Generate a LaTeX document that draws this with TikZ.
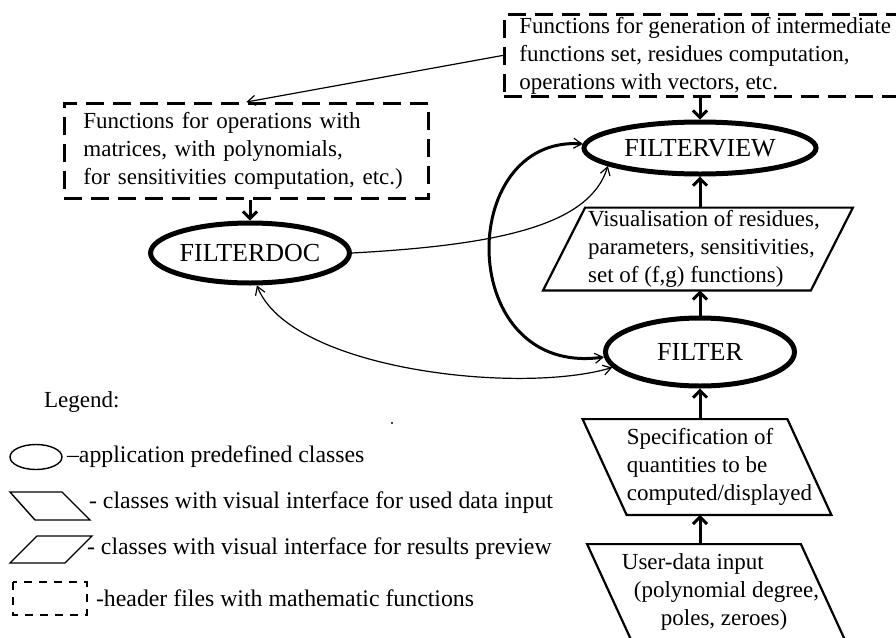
\documentclass[tikz,border=0pt]{standalone}
\usepackage{fontspec}
\setmainfont{Liberation Serif}
\usetikzlibrary{shapes.geometric,arrows.meta}

\begin{document}
\begin{tikzpicture}[x=0.5pt,y=-0.5pt,font=\fontsize{11.5}{14}\selectfont,
  hdr/.style={draw,line width=1.4pt,dash pattern=on 9pt off 4.5pt,align=left,inner ysep=1pt},
  cls/.style={draw,ellipse,line width=2.5pt,inner sep=0pt,font=\fontsize{13}{15}\selectfont},
  inbox/.style 2 args={align=left,inner sep=1pt,append after command={\pgfextra{\draw[line width=1.1pt] ([xshift=#2-#1]\tikzlastnode.north west) -- ([xshift=#2-#1]\tikzlastnode.north east) -- ([xshift=#2+#1]\tikzlastnode.south east) -- ([xshift=#2+#1]\tikzlastnode.south west) -- cycle;}}},
  outbox/.style 2 args={align=left,inner sep=1pt,append after command={\pgfextra{\draw[line width=1.1pt] ([xshift=#2+#1]\tikzlastnode.north west) -- ([xshift=#2+#1]\tikzlastnode.north east) -- ([xshift=#2-#1]\tikzlastnode.south east) -- ([xshift=#2-#1]\tikzlastnode.south west) -- cycle;}}},
  legtext/.style={anchor=west,font=\fontsize{11.9}{14}\selectfont},
  up/.style={line width=1.5pt,-{Straight Barb[length=3.5pt,width=7pt]}},
  thinarr/.style={line width=0.6pt,-{Straight Barb[length=4pt,width=5pt]}},
  twoway/.style={{Straight Barb[length=4pt,width=5pt,line width=0.6pt]}-{Straight Barb[length=4pt,width=5pt,line width=0.6pt]}}]
  \useasboundingbox (0,0) rectangle (896,638);
  \node[hdr,anchor=north west,inner xsep=7.5pt,minimum height=41pt] (genfun) at (503,13) {Functions for generation of intermediate\\functions set, residues computation,\\operations with vectors, etc.};
  \node[hdr,anchor=north west,text width=163pt,inner xsep=9.5pt,minimum height=47.5pt] (matfun) at (63,102) {Functions for operations with\\matrices, with polynomials,\\for sensitivities computation, etc.)};
  \node[cls,minimum width=116pt,minimum height=26pt] (fview) at (700,148) {FILTERVIEW};
  \node[cls,minimum width=98.5pt,minimum height=30pt] (fdoc) at (250,253) {FILTERDOC};
  \node[cls,minimum width=94.5pt,minimum height=34pt] (filter) at (700,352) {FILTER};
  \node[outbox={10.5pt}{-3pt},minimum width=133.5pt,minimum height=41pt] (vis) at (704,249) {Visualisation of residues,\\parameters, sensitivities,\\set of (f,g) functions)};
  \node[inbox={11pt}{-6.25pt},minimum width=102pt,minimum height=47.5pt] (spec) at (719.5,467) {Specification of\\quantities to be\\computed/displayed};
  \node[inbox={11pt}{-2.25pt},minimum width=106.5pt,minimum height=47.5pt] (udata) at (720.5,592) {User-data input\\\hspace*{6pt}(polynomial degree,\\\hspace*{19.5pt}poles, zeroes)};
  \draw[up] (genfun.south -| fview) -- (fview.north); \draw[up] (matfun.south -| fdoc) -- (fdoc.north);
  \draw[up] (vis.north -| fview) -- (fview.south); \draw[up] (filter.north) -- (vis.south -| filter);
  \draw[up] (spec.north -| filter) -- (filter.south); \draw[up] (udata.north -| filter) -- (spec.south -| filter);
  \draw[thinarr] (genfun.west) -- (matfun.north);
  \draw[thinarr] (fdoc.east) .. controls (500,245) and (590,225) .. (fview.191);
  \draw[twoway,line width=1.5pt] (fview.178) .. controls (455,135) and (455,378) .. (filter.183);
  \draw[twoway,line width=0.6pt] (fdoc.282) .. controls (290,370) and (520,395) .. (filter.190);
  \node[anchor=west] (leg) at (37,402) {Legend:}; \fill (392,423) circle [radius=1.2];
  \draw[line width=0.7pt] (36,457) ellipse [x radius=26, y radius=12.5]; \node[legtext] (legcls) at (60,457) {–application predefined classes};
  \draw[line width=0.7pt] (10,492) -- (62,492) -- (90,520) -- (35,520) -- cycle; \node[legtext] (legin) at (82,503) {- classes with visual interface for used data input};
  \draw[line width=0.7pt] (37,536) -- (92,536) -- (65,563) -- (10,563) -- cycle; \node[legtext] (legout) at (80,549) {- classes with visual interface for results preview};
  \draw[line width=0.7pt,dash pattern=on 4pt off 3.5pt] (13,582) rectangle (87,615); \node[legtext] (leghdr) at (89,598) {-header files with mathematic functions};
\end{tikzpicture}
\end{document}
